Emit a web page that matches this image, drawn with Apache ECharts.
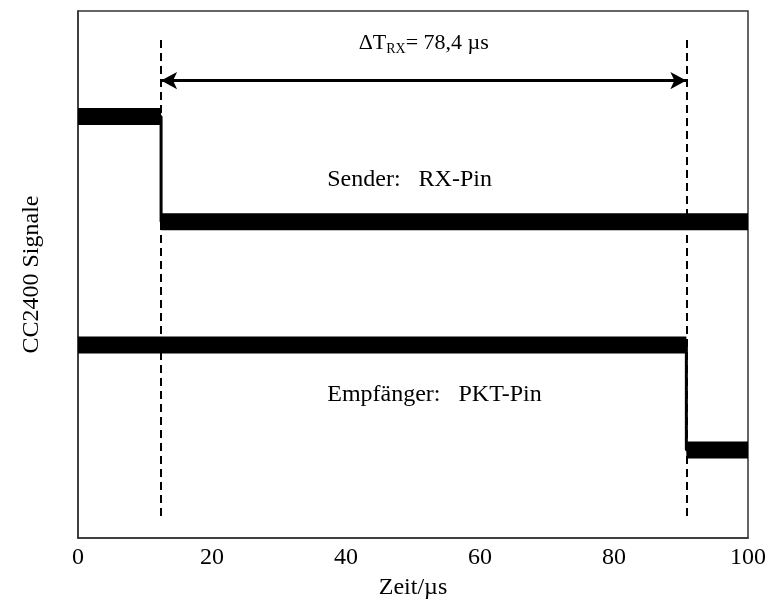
<!DOCTYPE html>
<html>
<head>
<meta charset="utf-8">
<script src="https://cdn.jsdelivr.net/npm/echarts@6/dist/echarts.min.js"></script>
<style>
  html, body { margin: 0; padding: 0; background: #fff; }
  #chart { width: 766px; height: 608px; }
</style>
</head>
<body>
<div id="chart"></div>
<script>
// Time ticks (µs)
const xTicks = [0, 20, 40, 60, 80, 100];

// Sender RX-Pin: level before / after the switching edge
const rxTime  = [0, 12.4, 12.4, 100];
const rxLevel = [8.0, 8.0, 6.0, 6.0];

// Empfänger PKT-Pin: level before / after the switching edge
const pktTime  = [0, 90.8, 90.8, 100];
const pktLevel = [3.66, 3.66, 1.67, 1.67];

// Marker times and the stated interval
const edgeRx  = 12.4;
const edgePkt = 90.8;
const deltaLabel = '78,4 µs';

const serif = 'Liberation Serif';

function pairs(t, v) { return t.map((x, i) => [x, v[i]]); }

// Thick bands for the steady levels, broken at the vertical edge
function bands(t, v) {
  const out = [];
  for (let i = 0; i < t.length; i++) {
    if (i > 0 && v[i] !== v[i - 1]) out.push([t[i], '-']);
    out.push([t[i], v[i]]);
  }
  return out;
}

const chart = echarts.init(document.getElementById('chart'));

const bandStyle = { color: '#000', width: 17, cap: 'butt' };
const edgeStyle = { color: '#000', width: 3 };

chart.setOption({
  animation: false,
  backgroundColor: '#fff',
  grid: { left: 78, right: 18, top: 11, bottom: 70, show: true, borderColor: '#333', borderWidth: 1.5,
          containLabel: false, outerBoundsMode: 'none' },
  xAxis: {
    type: 'value', min: 0, max: 100, interval: 20,
    name: 'Zeit/µs', nameLocation: 'middle', nameGap: 38,
    nameTextStyle: { fontFamily: serif, fontSize: 24, color: '#000' },
    axisLine: { show: true, lineStyle: { color: '#333', width: 1.5 } },
    axisTick: { show: false },
    splitLine: { show: false },
    axisLabel: { fontFamily: serif, fontSize: 24, color: '#000', margin: 8 }
  },
  yAxis: {
    type: 'value', min: 0, max: 10,
    name: 'CC2400 Signale', nameLocation: 'middle', nameGap: 34,
    nameTextStyle: { fontFamily: serif, fontSize: 24, color: '#000' },
    axisLine: { show: true, lineStyle: { color: '#333', width: 1.5 } },
    axisTick: { show: false },
    axisLabel: { show: false },
    splitLine: { show: false }
  },
  series: [
    { type: 'line', data: pairs(rxTime, rxLevel), symbol: 'none', lineStyle: edgeStyle, z: 3 },
    { type: 'line', data: bands(rxTime, rxLevel), symbol: 'none', lineStyle: bandStyle, connectNulls: false, z: 3 },
    { type: 'line', data: pairs(pktTime, pktLevel), symbol: 'none', lineStyle: edgeStyle, z: 3 },
    { type: 'line', data: bands(pktTime, pktLevel), symbol: 'none', lineStyle: bandStyle, connectNulls: false, z: 3,
      markLine: {
        silent: true, symbol: ['none', 'none'],
        lineStyle: { color: '#000', width: 2, type: [8, 5] },
        label: { show: false },
        data: [
          [{ coord: [edgeRx, 9.45] }, { coord: [edgeRx, 0.34] }],
          [{ coord: [edgePkt, 9.45] }, { coord: [edgePkt, 0.34] }]
        ]
      }
    },
    // ΔT arrow between the two edges
    { type: 'line', data: [], z: 4,
      markLine: {
        silent: true, symbol: ['arrow', 'arrow'], symbolSize: [13, 16],
        lineStyle: { color: '#000', width: 3, type: 'solid' },
        label: {
          show: true, position: 'middle', distance: 24,
          formatter: '{a|ΔT}{s|RX}{a|= ' + deltaLabel + '}',
          rich: {
            a: { fontFamily: serif, fontSize: 22, color: '#000' },
            s: { fontFamily: serif, fontSize: 14, color: '#000', padding: [13, 0, 0, 0] }
          }
        },
        data: [[{ coord: [edgeRx, 8.68] }, { coord: [edgePkt, 8.68] }]]
      }
    },
    // Pin captions
    { type: 'scatter', symbolSize: 0, silent: true, z: 5,
      data: [
        { value: [37.2, 6.79], label: { formatter: 'Sender:   RX-Pin' } },
        { value: [37.2, 2.71], label: { formatter: 'Empfänger:   PKT-Pin' } }
      ],
      label: { show: true, position: 'right', distance: 0, fontFamily: serif, fontSize: 24, color: '#000', opacity: 1 }
    }
  ]
});
</script>
</body>
</html>
